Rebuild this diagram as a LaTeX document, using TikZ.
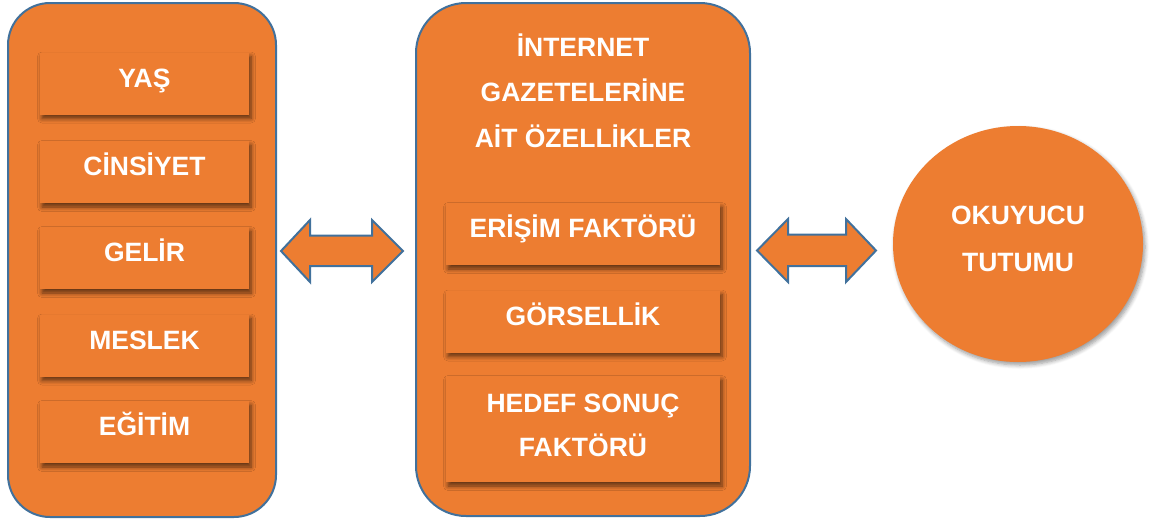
\documentclass[tikz,border=0pt]{standalone}
\usepackage{fontspec}
\setmainfont{Liberation Sans}
\usetikzlibrary{shadows.blur,shapes.geometric}
\definecolor{org}{HTML}{ED7D31}
\definecolor{bord}{HTML}{41719C}
\tikzset{
  panel/.style={draw=bord, line width=2pt, fill=org},
  itembox/.style={fill=org, minimum width=209pt, minimum height=62pt, inner sep=0pt,
    text height=19pt, text depth=12pt,
    blur shadow={shadow xshift=2pt, shadow yshift=-4pt, shadow opacity=60, shadow blur steps=6, shadow blur radius=4.5pt},
    text=white, font=\fontsize{26.5}{44}\selectfont\bfseries, align=center},
  wtext/.style={text=white, font=\fontsize{26.5}{45.5}\selectfont\bfseries, align=center},
  dblarrow/.style={draw=bord, line width=2pt, fill=org, line join=miter},
}
\begin{document}
\begin{tikzpicture}[x=1pt,y=-1pt]
\useasboundingbox (0,0) rectangle (1154,525);
% left panel
\draw[panel, rounded corners=42pt] (8,3) rectangle (276,517);
\node[itembox] (yas)  at (144.5,83.5) {YAŞ};
\node[itembox] (cins) at (144.5,172) {CİNSİYET};
\node[itembox] (gel)  at (144.5,258) {GELİR};
\node[itembox] (mes)  at (144.5,345.5) {MESLEK};
\node[itembox] (egi)  at (144.5,432) {EĞİTİM};
% middle panel
\draw[panel, rounded corners=50pt] (416,3) rectangle (750,516);
\node[wtext] (title) at (583,90.5) {İNTERNET\\GAZETELERİNE\\AİT ÖZELLİKLER};
\node[itembox, minimum width=274pt] (eris) at (583,234) {ERİŞİM FAKTÖRÜ};
\node[itembox, minimum width=274pt] (gors) at (583,321.5) {GÖRSELLİK};
\node[itembox, minimum width=274pt, minimum height=106pt] (hedef) at (583,429) {};
\node[wtext, font=\fontsize{26.5}{44}\selectfont\bfseries] (hedeft) at ([yshift=4pt]hedef.center) {HEDEF SONUÇ\\FAKTÖRÜ};
% right circle
\node[ellipse, fill=org, minimum width=250pt, minimum height=236pt, inner sep=0pt,
  blur shadow={shadow xshift=2pt, shadow yshift=-3pt, shadow opacity=40, shadow blur steps=6, shadow blur radius=4pt}] (okuy) at (1018,244) {};
\node[wtext, font=\fontsize{26.5}{47}\selectfont\bfseries] (okuyt) at ([yshift=5pt]okuy.center) {OKUYUCU\\TUTUMU};
% double arrows
\draw[dblarrow] (281,251) -- (310,220) -- (310,235.5) -- (372,235.5) -- (372,220) -- (403,251)
  -- (372,282) -- (372,266) -- (310,266) -- (310,282) -- cycle;
\draw[dblarrow] (757,250.5) -- (788,219) -- (788,234.5) -- (846,234.5) -- (846,219) -- (876,250.5)
  -- (846,282) -- (846,266) -- (788,266) -- (788,282) -- cycle;
\end{tikzpicture}
\end{document}
